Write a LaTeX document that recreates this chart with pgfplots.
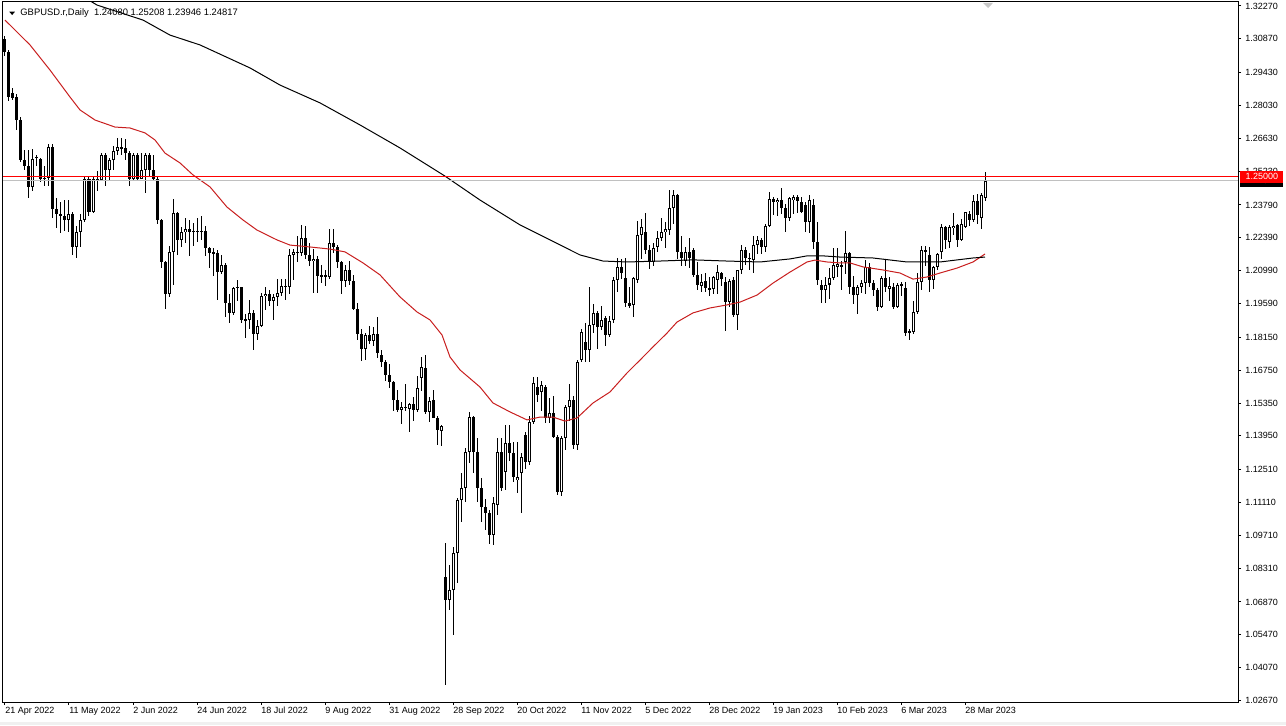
\documentclass[border=0pt]{standalone}
\usepackage{fontspec}
\setmainfont{Liberation Sans}
\usepackage{pgfplots}
\usepackage{pgfplotstable}
\pgfplotsset{compat=1.18}
\newcommand\lbl{\fontsize{4.5}{5}\selectfont}
\definecolor{maRed}{RGB}{200,30,30}
\definecolor{bidGrey}{RGB}{192,192,192}
\definecolor{winGrey}{RGB}{240,240,240}

\pgfplotstableread{
o h l c
1.3085 1.3098 1.3015 1.3030
1.3030 1.3040 1.2820 1.2838
1.2855 1.2878 1.2826 1.2836
1.2838 1.2850 1.2700 1.2741
1.2741 1.2752 1.2560 1.2572
1.2572 1.2615 1.2530 1.2545
1.2545 1.2615 1.2410 1.2455
1.2455 1.2618 1.2440 1.2575
1.2585 1.2592 1.2545 1.2580
1.2575 1.2580 1.2475 1.2490
1.2490 1.2545 1.2460 1.2495
1.2495 1.2640 1.2460 1.2625
1.2625 1.2640 1.2325 1.2360
1.2360 1.2410 1.2280 1.2340
1.2340 1.2390 1.2260 1.2330
1.2330 1.2400 1.2270 1.2315
1.2315 1.2400 1.2265 1.2340
1.2340 1.2350 1.2165 1.2200
1.2200 1.2290 1.2155 1.2265
1.2265 1.2340 1.2200 1.2315
1.2315 1.2500 1.2305 1.2490
1.2490 1.2500 1.2330 1.2350
1.2350 1.2500 1.2345 1.2490
1.2490 1.2525 1.2440 1.2485
1.2485 1.2600 1.2480 1.2590
1.2590 1.2600 1.2460 1.2530
1.2530 1.2580 1.2480 1.2570
1.2570 1.2630 1.2530 1.2610
1.2610 1.2665 1.2590 1.2625
1.2625 1.2665 1.2590 1.2620
1.2620 1.2660 1.2570 1.2600
1.2600 1.2610 1.2460 1.2490
1.2490 1.2600 1.2480 1.2590
1.2590 1.2600 1.2480 1.2490
1.2490 1.2600 1.2490 1.2530
1.2530 1.2600 1.2430 1.2590
1.2590 1.2600 1.2500 1.2530
1.2530 1.2590 1.2480 1.2490
1.2490 1.2500 1.2300 1.2315
1.2315 1.2320 1.2110 1.2135
1.2135 1.2140 1.1935 1.2000
1.2000 1.2205 1.1985 1.2180
1.2180 1.2405 1.2040 1.2345
1.2345 1.2350 1.2165 1.2230
1.2230 1.2285 1.2200 1.2265
1.2265 1.2325 1.2215 1.2275
1.2275 1.2315 1.2160 1.2265
1.2265 1.2300 1.2205 1.2270
1.2270 1.2325 1.2220 1.2265
1.2265 1.2330 1.2230 1.2270
1.2270 1.2290 1.2160 1.2195
1.2195 1.2200 1.2110 1.2175
1.2175 1.2195 1.2075 1.2175
1.2175 1.2185 1.1975 1.2095
1.2095 1.2165 1.2085 1.2125
1.2125 1.2130 1.1900 1.1960
1.1960 1.2000 1.1875 1.1920
1.1920 1.2030 1.1910 1.2025
1.2025 1.2060 1.1970 1.2030
1.2030 1.2030 1.1875 1.1890
1.1890 1.1915 1.1810 1.1890
1.1890 1.1975 1.1850 1.1920
1.1920 1.1930 1.1760 1.1830
1.1830 1.1890 1.1805 1.1865
1.1865 1.2005 1.1860 1.1990
1.1990 1.2030 1.1930 1.2000
1.2000 1.2015 1.1950 1.1970
1.1970 1.2000 1.1890 1.1985
1.1985 1.2065 1.1950 1.2005
1.2005 1.2065 1.1990 1.2035
1.2035 1.2065 1.1975 1.2030
1.2030 1.2190 1.2000 1.2165
1.2165 1.2190 1.2060 1.2180
1.2180 1.2245 1.2135 1.2175
1.2175 1.2295 1.2160 1.2240
1.2240 1.2290 1.2150 1.2165
1.2165 1.2215 1.2120 1.2140
1.2140 1.2190 1.2005 1.2150
1.2150 1.2160 1.2005 1.2075
1.2075 1.2125 1.2045 1.2080
1.2080 1.2100 1.2035 1.2070
1.2070 1.2275 1.2065 1.2215
1.2215 1.2275 1.2175 1.2200
1.2200 1.2210 1.2110 1.2135
1.2135 1.2140 1.2000 1.2055
1.2055 1.2125 1.2030 1.2100
1.2100 1.2140 1.2040 1.2055
1.2055 1.2080 1.1930 1.1935
1.1935 1.1960 1.1805 1.1830
1.1830 1.1850 1.1715 1.1765
1.1765 1.1835 1.1720 1.1825
1.1825 1.1865 1.1785 1.1800
1.1800 1.1860 1.1780 1.1830
1.1830 1.1900 1.1725 1.1750
1.1740 1.1760 1.1690 1.1710
1.1710 1.1720 1.1630 1.1655
1.1655 1.1700 1.1600 1.1625
1.1625 1.1630 1.1500 1.1548
1.1548 1.1590 1.1495 1.1505
1.1505 1.1540 1.1445 1.1520
1.1520 1.1615 1.1500 1.1515
1.1510 1.1535 1.1410 1.1530
1.1530 1.1560 1.1460 1.1505
1.1505 1.1650 1.1495 1.1600
1.1640 1.1730 1.1585 1.1688
1.1684 1.1740 1.1490 1.1497
1.1497 1.1560 1.1455 1.1545
1.1548 1.1590 1.1470 1.1471
1.1471 1.1480 1.1356 1.1420
1.1416 1.1440 1.1350 1.1437
1.0794 1.0938 1.0333 1.0696
1.0696 1.0845 1.0653 1.0738
1.0738 1.0921 1.0546 1.0896
1.0896 1.1130 1.0768 1.1122
1.1122 1.1237 1.1028 1.1173
1.1173 1.1345 1.1115 1.1326
1.1326 1.1495 1.1280 1.1475
1.1475 1.1480 1.1237 1.1326
1.1326 1.1385 1.1113 1.1173
1.1173 1.1215 1.1030 1.1092
1.1092 1.1125 1.0995 1.1066
1.1066 1.1080 1.0935 1.0972
1.0972 1.1134 1.0930 1.1109
1.1100 1.1386 1.1058 1.1326
1.1326 1.1386 1.1160 1.1173
1.1241 1.1440 1.1165 1.1364
1.1364 1.1440 1.1290 1.1322
1.1322 1.1370 1.1200 1.1220
1.1205 1.1370 1.1150 1.1220
1.1237 1.1322 1.1066 1.1305
1.1399 1.1410 1.1255 1.1284
1.1284 1.1480 1.1270 1.1454
1.1454 1.1645 1.1445 1.1620
1.1603 1.1645 1.1540 1.1569
1.1580 1.1630 1.1500 1.1610
1.1603 1.1610 1.1450 1.1471
1.1471 1.1555 1.1450 1.1492
1.1492 1.1565 1.1385 1.1390
1.1390 1.1400 1.1145 1.1156
1.1156 1.1395 1.1140 1.1386
1.1386 1.1525 1.1335 1.1518
1.1518 1.1615 1.1460 1.1548
1.1548 1.1565 1.1340 1.1356
1.1356 1.1720 1.1335 1.1710
1.1718 1.1850 1.1710 1.1838
1.1795 1.1875 1.1710 1.1761
1.1761 1.2030 1.1710 1.1868
1.1868 1.1955 1.1835 1.1919
1.1919 1.1925 1.1765 1.1859
1.1859 1.1950 1.1845 1.1890
1.1897 1.1905 1.1780 1.1825
1.1825 1.1905 1.1815 1.1885
1.1889 1.2070 1.1875 1.2059
1.2059 1.2155 1.2010 1.2115
1.2115 1.2150 1.2065 1.2090
1.2068 1.2155 1.1945 1.1961
1.1961 1.2030 1.1940 1.1950
1.1953 1.2070 1.1900 1.2068
1.2059 1.2310 1.2045 1.2251
1.2251 1.2320 1.2150 1.2285
1.2264 1.2345 1.2170 1.2187
1.2187 1.2210 1.2105 1.2136
1.2136 1.2215 1.2120 1.2195
1.2200 1.2270 1.2180 1.2238
1.2240 1.2325 1.2225 1.2265
1.2265 1.2305 1.2195 1.2275
1.2272 1.2445 1.2250 1.2366
1.2366 1.2445 1.2300 1.2422
1.2422 1.2425 1.2150 1.2179
1.2179 1.2245 1.2120 1.2153
1.2140 1.2200 1.2120 1.2180
1.2180 1.2240 1.2110 1.2155
1.2187 1.2195 1.2070 1.2081
1.2081 1.2135 1.2015 1.2038
1.2035 1.2085 1.2010 1.2050
1.2055 1.2090 1.2010 1.2025
1.2025 1.2070 1.1990 1.2020
1.2020 1.2075 1.2000 1.2070
1.2059 1.2125 1.2000 1.2094
1.2090 1.2095 1.2035 1.2065
1.2051 1.2070 1.1840 1.1966
1.1966 1.2065 1.1945 1.2055
1.2059 1.2070 1.1900 1.1910
1.1910 1.2102 1.1846 1.2102
1.2102 1.2210 1.2085 1.2187
1.2187 1.2200 1.2125 1.2155
1.2155 1.2175 1.2100 1.2150
1.2145 1.2245 1.2090 1.2208
1.2208 1.2245 1.2170 1.2230
1.2230 1.2240 1.2170 1.2200
1.2200 1.2300 1.2180 1.2290
1.2290 1.2435 1.2285 1.2405
1.2405 1.2415 1.2335 1.2390
1.2390 1.2410 1.2330 1.2400
1.2400 1.2450 1.2340 1.2365
1.2365 1.2385 1.2265 1.2325
1.2325 1.2415 1.2310 1.2410
1.2400 1.2420 1.2340 1.2413
1.2413 1.2420 1.2345 1.2395
1.2392 1.2415 1.2345 1.2349
1.2379 1.2390 1.2265 1.2307
1.2307 1.2420 1.2260 1.2400
1.2379 1.2405 1.2190 1.2221
1.2221 1.2305 1.2040 1.2059
1.2038 1.2060 1.1960 1.2017
1.2017 1.2070 1.1960 1.2038
1.2040 1.2110 1.1980 1.2068
1.2068 1.2195 1.2060 1.2123
1.2115 1.2195 1.2070 1.2128
1.2125 1.2140 1.2015 1.2115
1.2136 1.2270 1.2085 1.2174
1.2174 1.2180 1.2000 1.2029
1.2029 1.2075 1.1955 1.1995
1.1995 1.2040 1.1915 1.2030
1.2030 1.2060 1.2005 1.2045
1.2047 1.2145 1.2000 1.2115
1.2115 1.2130 1.2030 1.2047
1.2047 1.2060 1.1990 1.2017
1.2017 1.2025 1.1925 1.1944
1.1944 1.2075 1.1940 1.2068
1.2068 1.2145 1.2010 1.2030
1.2020 1.2070 1.1970 1.2035
1.2029 1.2045 1.1935 1.1944
1.1944 1.2045 1.1940 1.2040
1.2040 1.2050 1.1990 1.2036
1.2025 1.2050 1.1820 1.1833
1.1833 1.1850 1.1805 1.1840
1.1838 1.1970 1.1830 1.1923
1.1923 1.2090 1.1915 1.2051
1.2051 1.2205 1.2015 1.2187
1.2180 1.2205 1.2120 1.2185
1.2166 1.2200 1.2010 1.2059
1.2059 1.2120 1.2020 1.2115
1.2115 1.2175 1.2100 1.2170
1.2179 1.2300 1.2150 1.2285
1.2285 1.2290 1.2190 1.2230
1.2221 1.2295 1.2195 1.2285
1.2280 1.2345 1.2250 1.2290
1.2294 1.2300 1.2200 1.2230
1.2230 1.2320 1.2225 1.2300
1.2285 1.2350 1.2280 1.2349
1.2340 1.2355 1.2290 1.2315
1.2315 1.2420 1.2305 1.2395
1.2395 1.2425 1.2300 1.2335
1.2324 1.2430 1.2275 1.2422
1.24080 1.25208 1.23946 1.24817
}\candles

\begin{document}
\begin{tikzpicture}
\useasboundingbox (-1.5pt,-11.5pt) rectangle (641.5pt,351pt);
\fill[winGrey] (-1.5pt,-11.5pt) rectangle (641.5pt,-9.85pt);
\begin{axis}[
  at={(0,0)}, anchor=south west,
  scale only axis, width=617.5pt, height=350pt,
  xmin=-0.5, xmax=308.25, ymin=1.02607, ymax=1.32440,
  clip mode=individual,
  axis line style={black, line width=0.5pt},
  tick align=outside, major tick length=1.5pt,
  tick style={black, line width=0.5pt},
  ytick pos=upper, yticklabel pos=upper,
  ytick={1.32270,1.30870,1.29430,1.28030,1.26630,1.25230,1.23790,1.22390,1.20990,1.19590,1.18150,1.16750,1.15350,1.13950,1.12510,1.11110,1.09710,1.08310,1.06870,1.05470,1.04070,1.02670},
  yticklabels={1.32270,1.30870,1.29430,1.28030,1.26630,1.25230,1.23790,1.22390,1.20990,1.19590,1.18150,1.16750,1.15350,1.13950,1.12510,1.11110,1.09710,1.08310,1.06870,1.05470,1.04070,1.02670},
  yticklabel style={font=\lbl, anchor=west, inner sep=0pt, xshift=2pt},
  xtick pos=lower,
  xtick={0,16,32,48,64,80,96,112,128,144,160,176,192,208,224,240},
  xticklabels={21 Apr 2022,11 May 2022,2 Jun 2022,24 Jun 2022,18 Jul 2022,9 Aug 2022,31 Aug 2022,28 Sep 2022,20 Oct 2022,11 Nov 2022,5 Dec 2022,28 Dec 2022,19 Jan 2023,10 Feb 2023,6 Mar 2023,28 Mar 2023},
  xticklabel style={font=\lbl, anchor=north west, inner sep=0pt, yshift=-1pt},
]
% wicks
\addplot[draw=none, mark=none, error bars/.cd, y dir=both, y explicit, error mark=none,
  error bar style={draw=black, line width=0.5pt}]
  table[x expr=\coordindex, y expr={(\thisrow{h}+\thisrow{l})/2}, y error expr={(\thisrow{h}-\thisrow{l})/2}] {\candles};
% bodies (outer, black)
\addplot[draw=none, mark=none, error bars/.cd, y dir=both, y explicit, error mark=none,
  error bar style={draw=black, line width=1.5pt, line cap=butt}]
  table[x expr=\coordindex, y expr={(\thisrow{o}+\thisrow{c})/2}, y error expr={max(abs(\thisrow{o}-\thisrow{c})/2,0.00022)}] {\candles};
% bodies (inner, white for rising candles)
\addplot[draw=none, mark=none, error bars/.cd, y dir=both, y explicit, error mark=none,
  error bar style={draw=white, line width=0.5pt, line cap=butt}]
  table[x expr=\coordindex, y expr={(\thisrow{o}+\thisrow{c})/2}, y error expr={max((\thisrow{c}-\thisrow{o})/2-0.00043,0)}] {\candles};
% moving averages
\addplot[maRed, line width=0.5pt] coordinates {(0,1.3167) (6.25,1.3061) (11.25,1.2954) (16.25,1.2839) (18.75,1.2784) (22.5,1.2741) (27.5,1.2711) (31.25,1.2707) (35,1.2686) (37.5,1.2656) (40,1.2600) (43.75,1.2558) (47,1.2507) (51.25,1.2456) (55.5,1.2370) (59.5,1.2315) (63,1.2272) (68,1.2230) (71.25,1.2208) (76.25,1.2200) (81.25,1.2191) (85,1.2179) (89.5,1.2132) (93.75,1.2081) (98.75,1.1987) (103,1.1923) (106.25,1.1889) (109.25,1.1825) (111.25,1.1731) (113.75,1.1676) (118.75,1.1603) (122,1.1535) (126.25,1.1497) (130.5,1.1463) (133.75,1.1475) (137,1.1475) (140,1.1458) (143,1.1471) (147,1.1535) (151.25,1.1582) (155.5,1.1663) (158.75,1.1718) (162,1.1774) (165.5,1.1833) (168,1.1880) (172,1.1919) (176.25,1.1940) (180.5,1.1953) (183.75,1.1965) (188,1.1995) (192,1.2046) (196.25,1.2093) (200.5,1.2136) (202.5,1.2144) (205.5,1.2136) (208.75,1.2132) (211.25,1.2132) (214.5,1.2115) (219.5,1.2102) (223.75,1.2089) (227,1.2063) (230.5,1.2072) (233.75,1.2089) (238,1.2110) (242,1.2136) (245,1.2170)};
\addplot[black, line width=0.5pt] coordinates {(20,1.3262) (23,1.3231) (34.5,1.3167) (41.25,1.3103) (48.75,1.3061) (61.25,1.2963) (68.75,1.2890) (78.75,1.2814) (88.75,1.2720) (98.75,1.2622) (110,1.2502) (118.75,1.2400) (128.75,1.2294) (136.25,1.2230) (143.75,1.2166) (149.5,1.2140) (155.5,1.2136) (163.75,1.2140) (172,1.2145) (180.5,1.2140) (188.75,1.2136) (196.25,1.2149) (200.5,1.2162) (204.5,1.2162) (208.75,1.2157) (217,1.2153) (225.5,1.2136) (233.75,1.2136) (242,1.2153) (245,1.2157)};
% horizontal lines
\addplot[bidGrey, line width=0.5pt] coordinates {(-0.5,1.24817) (308.25,1.24817)};
\addplot[red, line width=0.5pt] coordinates {(-0.5,1.25) (308.25,1.25)};
\coordinate (bid) at (axis cs:308.25,1.24817);
\coordinate (lvl) at (axis cs:308.25,1.25);
% header
\fill[black] (rel axis cs:0.0051,0.9861) -- (rel axis cs:0.0097,0.9861) -- (rel axis cs:0.0074,0.9814) -- cycle;
\node[anchor=base west, inner sep=0pt, font=\fontsize{4.7}{5}\selectfont] at (rel axis cs:0.0138,0.980) {GBPUSD.r,Daily\ \ 1.24080 1.25208 1.23946 1.24817};
% chart shift marker
\fill[black!22] (rel axis cs:0.7935,0.9986) -- (rel axis cs:0.8016,0.9986) -- (rel axis cs:0.7976,0.9914) -- cycle;
\end{axis}
\node[fill=black, text=white, minimum width=21.5pt, minimum height=6pt, inner sep=0pt, anchor=west, font=\lbl] at ([xshift=1pt]bid) {1.24817};
\node[fill=red, text=white, minimum width=21.5pt, minimum height=6pt, inner sep=0pt, anchor=west, font=\lbl] at ([xshift=1pt]lvl) {1.25000};
\end{tikzpicture}
\end{document}
